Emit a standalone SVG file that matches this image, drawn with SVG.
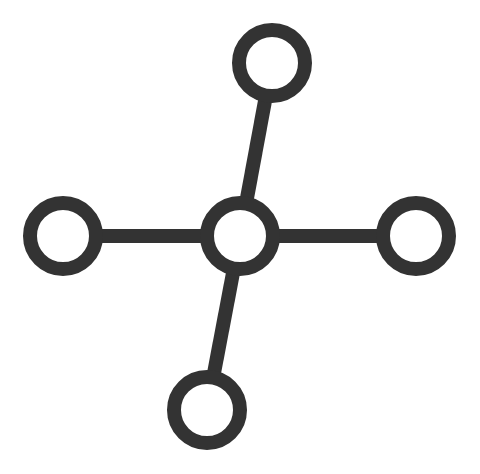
<svg xmlns="http://www.w3.org/2000/svg" width="480" height="474" viewBox="0 0 480 474">
<style>
.n{fill:#fff;stroke:#333;stroke-width:14}
.e{stroke:#333;stroke-width:14;fill:none}
</style>
<rect width="480" height="474" fill="#fff"/>
<g id="connectors">
<line class="e" x1="240" y1="236" x2="272" y2="63"/>
<line class="e" x1="240" y1="236" x2="207" y2="410"/>
<line class="e" x1="240" y1="236" x2="63" y2="236"/>
<line class="e" x1="240" y1="236" x2="416" y2="236"/>
</g>
<g id="center"><circle class="n" cx="240" cy="236" r="33"/></g>
<g id="top"><circle class="n" cx="272" cy="63" r="33"/></g>
<g id="bottom"><circle class="n" cx="207" cy="410" r="33"/></g>
<g id="left"><circle class="n" cx="63" cy="236" r="33"/></g>
<g id="right"><circle class="n" cx="416" cy="236" r="33"/></g>
</svg>
